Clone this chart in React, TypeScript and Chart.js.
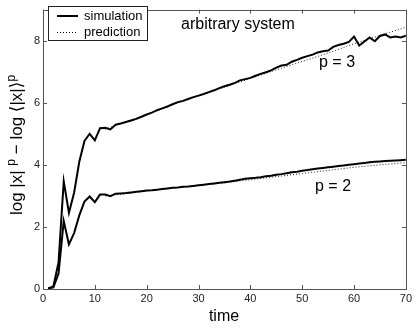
import React, { useEffect, useRef } from "react";
import Chart from "chart.js/auto";

const times = [1,2,3,4,5,6,7,8,9,10,11,12,13,14,15,16,17,18,19,20,21,22,23,24,25,26,27,28,29,30,31,32,33,34,35,36,37,38,39,40,41,42,43,44,45,46,47,48,49,50,51,52,53,54,55,56,57,58,59,60,61,62,63,64,65,66,67,68,69,70];

const simP3 = [0.02,0.08,0.86,3.47,2.45,3.1,4.1,4.77,5.0,4.79,5.18,5.19,5.14,5.29,5.33,5.38,5.43,5.48,5.55,5.62,5.68,5.76,5.82,5.88,5.95,6.02,6.06,6.12,6.18,6.23,6.28,6.34,6.4,6.47,6.53,6.58,6.64,6.72,6.76,6.8,6.87,6.93,6.98,7.04,7.13,7.2,7.22,7.32,7.38,7.45,7.5,7.55,7.62,7.66,7.68,7.8,7.86,7.9,7.96,8.13,7.84,7.97,8.1,7.98,8.15,8.2,8.1,8.13,8.1,8.16];

const simP2 = [0.02,0.05,0.5,2.19,1.44,1.8,2.37,2.82,2.98,2.8,3.04,3.04,2.99,3.07,3.08,3.09,3.11,3.13,3.15,3.17,3.18,3.2,3.22,3.24,3.26,3.27,3.29,3.3,3.32,3.34,3.36,3.38,3.4,3.42,3.44,3.46,3.49,3.52,3.55,3.57,3.58,3.6,3.63,3.65,3.68,3.7,3.73,3.76,3.78,3.81,3.83,3.86,3.88,3.9,3.92,3.94,3.96,3.98,4.0,4.02,4.04,4.06,4.08,4.1,4.11,4.12,4.13,4.14,4.15,4.16];

const predTimes = [12,15,20,25,30,35,40,45,50,55,60,65,70];
const predP3 = [5.15,5.33,5.62,5.93,6.22,6.5,6.78,7.06,7.33,7.6,7.9,8.17,8.43];
const predP2 = [3.0,3.05,3.16,3.25,3.33,3.42,3.52,3.62,3.72,3.82,3.92,4.0,4.07];

const xTicks = [0,10,20,30,40,50,60,70];
const yTicks = [0,2,4,6,8];

const FONT = "'Liberation Sans', Arial, 'DejaVu Sans', sans-serif";

const pts = (xs: number[], ys: number[]) => xs.map((x, i) => ({ x, y: ys[i] }));

const decorPlugin = {
  id: "decor",
  afterDraw(chart: any) {
    const ctx = chart.ctx;
    const { left, right, top, bottom } = chart.chartArea;
    const xs = chart.scales.x;
    const ys = chart.scales.y;
    ctx.save();
    // frame
    ctx.strokeStyle = "#555";
    ctx.lineWidth = 1;
    ctx.strokeRect(Math.round(left) + 0.5, Math.round(top) + 0.5, Math.round(right - left), Math.round(bottom - top));
    // inward ticks
    const tl = 4;
    ctx.beginPath();
    xTicks.forEach((v) => {
      const px = Math.round(xs.getPixelForValue(v)) + 0.5;
      ctx.moveTo(px, bottom); ctx.lineTo(px, bottom - tl);
      ctx.moveTo(px, top); ctx.lineTo(px, top + tl);
    });
    yTicks.forEach((v) => {
      const py = Math.round(ys.getPixelForValue(v)) + 0.5;
      ctx.moveTo(left, py); ctx.lineTo(left + tl, py);
      ctx.moveTo(right, py); ctx.lineTo(right - tl, py);
    });
    ctx.stroke();

    // legend
    ctx.strokeStyle = "#222";
    ctx.fillStyle = "#fff";
    ctx.fillRect(48.5, 6.5, 99, 34);
    ctx.strokeRect(48.5, 6.5, 99, 34);
    ctx.strokeStyle = "#000";
    ctx.lineWidth = 2;
    ctx.beginPath(); ctx.moveTo(57, 16); ctx.lineTo(78, 16); ctx.stroke();
    ctx.lineWidth = 1;
    ctx.setLineDash([1, 2]);
    ctx.beginPath(); ctx.moveTo(57, 32.5); ctx.lineTo(78, 32.5); ctx.stroke();
    ctx.setLineDash([]);
    ctx.fillStyle = "#000";
    ctx.font = `13px ${FONT}`;
    ctx.textBaseline = "middle";
    ctx.textAlign = "left";
    ctx.fillText("simulation", 84, 16);
    ctx.fillText("prediction", 84, 32);

    // annotations
    ctx.font = `16px ${FONT}`;
    ctx.fillText("arbitrary system", 181, 25);
    ctx.fillText("p = 3", 319, 63);
    ctx.fillText("p = 2", 315, 187);

    // x title
    ctx.font = `16px ${FONT}`;
    ctx.textAlign = "center";
    ctx.fillText("time", 224, 317);

    // y title
    ctx.translate(17, 145);
    ctx.rotate(-Math.PI / 2);
    const big = `17px ${FONT}`;
    const sup = `12px ${FONT}`;
    const parts: [string, boolean][] = [["log |x| ", false], ["p", true], [" \u2212 log \u27E8|x|\u27E9", false], ["p", true]];
    let total = 0;
    parts.forEach(([t, s]) => { ctx.font = s ? sup : big; total += ctx.measureText(t).width; });
    let cx = -total / 2;
    ctx.textAlign = "left";
    parts.forEach(([t, s]) => {
      ctx.font = s ? sup : big;
      ctx.fillText(t, cx, s ? -5 : 0);
      cx += ctx.measureText(t).width;
    });
    ctx.restore();
  },
};

export default function App() {
  const ref = useRef<HTMLCanvasElement>(null);
  useEffect(() => {
    if (!ref.current) return;
    const chart = new Chart(ref.current, {
      type: "line",
      data: {
        datasets: [
          { data: pts(times, simP3), borderColor: "#000", borderWidth: 2, pointRadius: 0, order: 0 },
          { data: pts(times, simP2), borderColor: "#000", borderWidth: 2, pointRadius: 0, order: 0 },
          { data: pts(predTimes, predP3), borderColor: "#222", borderWidth: 1, borderDash: [1, 2], pointRadius: 0, order: 1 },
          { data: pts(predTimes, predP2), borderColor: "#222", borderWidth: 1, borderDash: [1, 2], pointRadius: 0, order: 1 },
        ],
      },
      options: {
        animation: false,
        responsive: true,
        maintainAspectRatio: false,
        layout: { padding: { left: 0, right: 8, top: 3, bottom: 0 } },
        plugins: { legend: { display: false }, tooltip: { enabled: false }, title: { display: false } },
        scales: {
          x: {
            type: "linear",
            min: 0,
            max: 70,
            afterBuildTicks: (s: any) => { s.ticks = xTicks.map((v) => ({ value: v })); },
            afterFit: (s: any) => { s.height = 39; },
            grid: { display: false, drawTicks: false },
            border: { display: false },
            ticks: { color: "#222", font: { family: FONT, size: 11 }, padding: 3, maxRotation: 0 },
          },
          y: {
            type: "linear",
            min: 0,
            max: 9,
            afterBuildTicks: (s: any) => { s.ticks = yTicks.map((v) => ({ value: v })); },
            afterFit: (s: any) => { s.width = 43; },
            grid: { display: false, drawTicks: false },
            border: { display: false },
            ticks: { color: "#222", font: { family: FONT, size: 11 }, padding: 3 },
          },
        },
      },
      plugins: [decorPlugin],
    } as any);
    return () => chart.destroy();
  }, []);
  return (
    <div style={{ position: "absolute", left: 0, top: 0, width: 415, height: 328, background: "#fff" }}>
      <canvas ref={ref} />
    </div>
  );
}
